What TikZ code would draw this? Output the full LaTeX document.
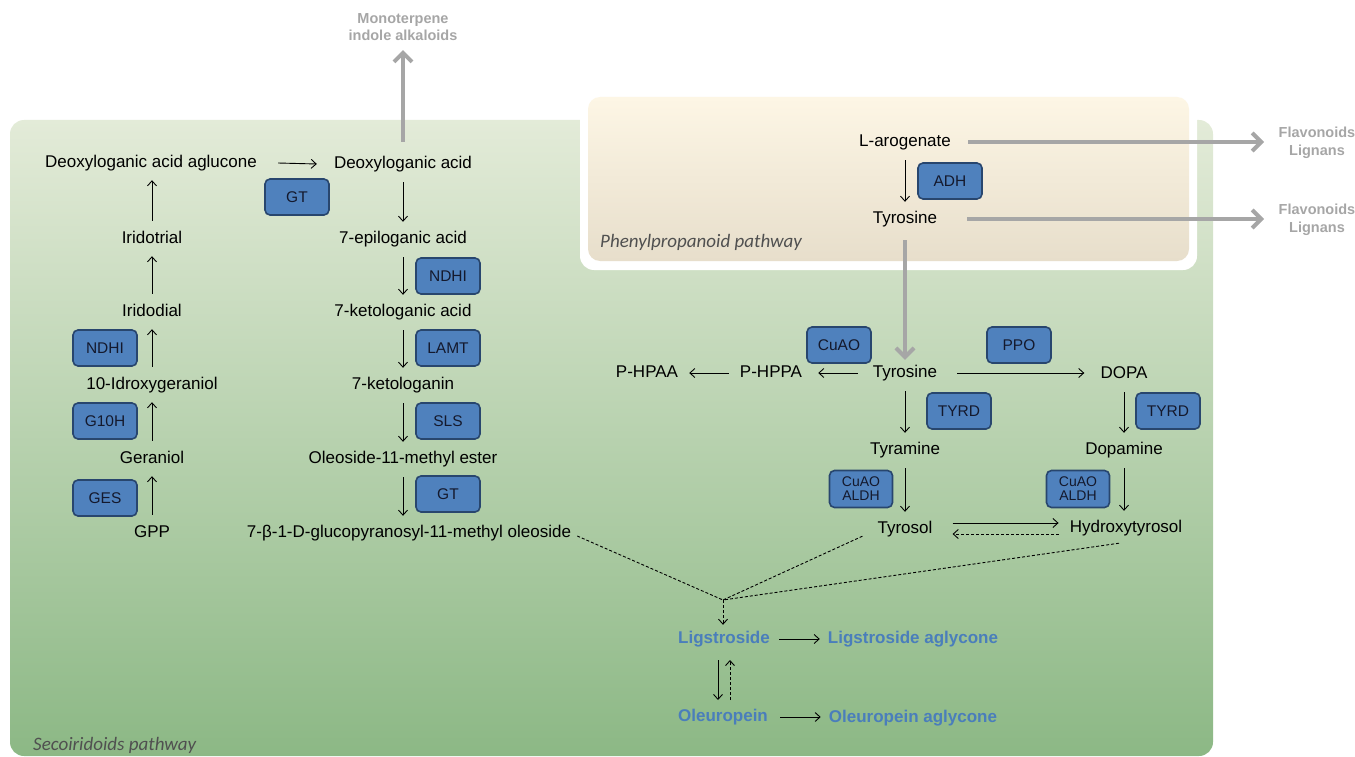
\documentclass[tikz,border=0pt]{standalone}
\usepackage{fontspec}
\setmainfont{Liberation Sans}
\newfontfamily\labfont{Carlito}
\usetikzlibrary{arrows.meta}
\definecolor{enzF}{RGB}{79,129,189}
\definecolor{enzB}{RGB}{40,70,110}
\definecolor{enzT}{RGB}{20,25,45}
\definecolor{grayT}{RGB}{166,166,166}
\definecolor{blueT}{RGB}{74,126,187}
\definecolor{labT}{RGB}{80,80,80}
\definecolor{greenTop}{RGB}{227,235,216}
\definecolor{greenBot}{RGB}{140,184,133}
\definecolor{beigeTop}{RGB}{253,246,229}
\definecolor{beigeBot}{RGB}{231,222,203}
\begin{document}
\begin{tikzpicture}[x=1pt,y=-1pt,
 txt/.style={inner sep=1pt, text height=12.5pt, text depth=3.5pt, font=\fontsize{17}{20}\selectfont},
 btxt/.style={txt, text=blueT, font=\fontsize{17}{20}\selectfont\bfseries},
 gtxt/.style={inner sep=1pt, text=grayT, align=center, font=\fontsize{14.5}{17.5}\selectfont\bfseries},
 enz/.style={draw=enzB, line width=1.6pt, fill=enzF, rounded corners=5pt, minimum width=64pt, minimum height=36pt, inner sep=0pt, text=enzT, align=center, font=\fontsize{15.5}{18}\selectfont},
 enztwo/.style={enz, minimum width=63pt, minimum height=37pt, font=\fontsize{14}{16}\selectfont},
 arr/.style={line width=0.9pt, -{Straight Barb[length=5pt,width=9pt]}},
 darr/.style={arr, dash pattern=on 3pt off 2pt},
 dln/.style={line width=0.9pt, dash pattern=on 3pt off 2pt},
 vsh/.style={shorten <=9pt, shorten >=8pt},
 garr/.style={draw=grayT, line width=4pt, -{Straight Barb[length=9pt,width=18pt]}},
 lab/.style={inner sep=0pt, anchor=west, text=labT, font=\fontsize{19}{22}\selectfont\labfont\itshape}
]
\useasboundingbox (0,0) rectangle (1355,757);
% backgrounds
\shade[rounded corners=14pt, top color=greenTop, bottom color=greenBot] (10,120) rectangle (1213,756);
\fill[white, rounded corners=14pt] (580,92) rectangle (1197,270);
\shade[rounded corners=12pt, top color=beigeTop, bottom color=beigeBot] (588,97) rectangle (1189,261);
\node[lab] (labP) at (600,242) {Phenylpropanoid pathway};
\node[lab] (labS) at (33,745) {Secoiridoids pathway};

% left column
\node[txt] (dla) at (151,163) {Deoxyloganic acid aglucone};
\node[txt] (irt) at (152,239) {Iridotrial};
\node[txt] (ird) at (152,312) {Iridodial};
\node[txt] (hg) at (152,385) {10-Idroxygeraniol};
\node[txt] (ger) at (152,459) {Geraniol};
\node[txt] (gpp) at (152,533) {GPP};
\node[enz] (eNDHIa) at (105,348) {NDHI};
\node[enz] (eG10H) at (105,421) {G10H};
\node[enz] (eGES) at (105,498) {GES};
\draw[arr, vsh] (gpp) -- (ger);
\draw[arr, vsh] (ger) -- (hg);
\draw[arr, vsh] (hg) -- (ird);
\draw[arr, vsh] (ird) -- (irt);
\draw[arr, vsh] (irt) -- (irt |- dla.south);

% middle column
\node[txt] (dac) at (403,164) {Deoxyloganic acid};
\node[txt] (epi) at (403,239) {7-epiloganic acid};
\node[txt] (kla) at (403,312) {7-ketologanic acid};
\node[txt] (klg) at (403,385) {7-ketologanin};
\node[txt] (ole) at (403,459) {Oleoside-11-methyl ester};
\node[txt] (glu) at (409,533) {7-β-1-D-glucopyranosyl-11-methyl oleoside};
\node[enz] (eGTa) at (297,197) {GT};
\node[enz] (eNDHIb) at (448,276) {NDHI};
\node[enz] (eLAMT) at (448,348) {LAMT};
\node[enz] (eSLS) at (448,421) {SLS};
\node[enz] (eGTb) at (448,494) {GT};
\draw[arr] ([xshift=20pt]dla.east) -- ([xshift=-16pt]dac.west);
\draw[arr, vsh] (dac) -- (epi);
\draw[arr, vsh] (epi) -- (kla);
\draw[arr, vsh] (kla) -- (klg);
\draw[arr, vsh] (klg) -- (ole);
\draw[arr, vsh] (ole) -- (ole |- glu.north);

% monoterpene
\node[gtxt] (mia) at (403,27) {Monoterpene\\indole alkaloids};
\draw[garr] (403,142) -- ([yshift=-8pt]mia.south);

% phenylpropanoid
\node[txt] (lar) at (905,142) {L-arogenate};
\node[txt] (tyr1) at (905,219) {Tyrosine};
\node[enz] (eADH) at (950,181) {ADH};
\node[gtxt] (fl1) at (1317,143) {Flavonoids\\Lignans};
\node[gtxt] (fl2) at (1317,220) {Flavonoids\\Lignans};
\draw[arr, vsh] (lar) -- (tyr1);
\draw[garr] ([xshift=16pt]lar.east) -- (1264,142);
\draw[garr] ([xshift=29pt]tyr1.east) -- (1264,219);

% lower right
\node[txt] (tyr2) at (905,373) {Tyrosine};
\node[txt] (hppa) at (771,373) {P-HPPA};
\node[txt] (hpaa) at (647,373) {P-HPAA};
\node[txt] (dopa) at (1124,374) {DOPA};
\node[txt] (tyra) at (905,450) {Tyramine};
\node[txt] (dopm) at (1124,450) {Dopamine};
\node[txt] (tyl) at (905,529) {Tyrosol};
\node[txt] (hyt) at (1126,528) {Hydroxytyrosol};
\draw[garr] (905,240) -- ([yshift=4pt]tyr2.north);
\node[enz] (eCuAO) at (839,345) {CuAO};
\node[enz] (ePPO) at (1019,345) {PPO};
\node[enz] (eTYRDa) at (959,411) {TYRD};
\node[enz] (eTYRDb) at (1168,411) {TYRD};
\node[enztwo] (eCAa) at (861,489) {CuAO\\[-2pt]ALDH};
\node[enztwo] (eCAb) at (1078,489) {CuAO\\[-2pt]ALDH};
\draw[arr] ([xshift=-14pt]tyr2.west) -- ([xshift=15pt]hppa.east);
\draw[arr] ([xshift=-10pt]hppa.west) -- ([xshift=10pt]hpaa.east);
\draw[arr] ([xshift=19pt]tyr2.east) -- ([xshift=-15pt]dopa.west |- tyr2.east);
\draw[arr, vsh] (tyr2) -- (tyra);
\draw[arr, vsh] (tyra) -- (tyl);
\draw[arr, vsh] (dopa) -- (dopm);
\draw[arr, vsh] (dopm) -- (dopm |- hyt.north);
\draw[arr] ([xshift=19pt,yshift=6pt]tyl.east) -- ([xshift=-10pt,yshift=5pt]hyt.west);
\draw[darr] ([xshift=-10pt,yshift=-6pt]hyt.west) -- ([xshift=19pt,yshift=-5pt]tyl.east);

% convergence
\coordinate (conv) at (723,600);
\node[btxt] (lig) at (724,639) {Ligstroside};
\node[btxt] (liga) at (913,639) {Ligstroside aglycone};
\node[btxt] (oleu) at (723,717) {Oleuropein};
\node[btxt] (oleua) at (913,718) {Oleuropein aglycone};
\draw[dln] ([xshift=5pt,yshift=-3pt]glu.east) -- (conv);
\draw[dln] ([xshift=-14pt,yshift=2pt]tyl.south west) -- (conv);
\draw[dln] ([xshift=-7pt,yshift=-6pt]hyt.south) -- (conv);
\draw[darr, shorten >=5pt] (conv) -- (conv |- lig.north);
\draw[arr] ([xshift=8pt]lig.east) -- ([xshift=-7pt]liga.west);
\draw[arr] ([xshift=11pt]oleu.east) -- ([xshift=-7pt]oleua.west |- oleu.east);
\draw[arr] (718,660) -- (718,700);
\draw[darr] (730,700) -- (730,660);
\end{tikzpicture}
\end{document}
